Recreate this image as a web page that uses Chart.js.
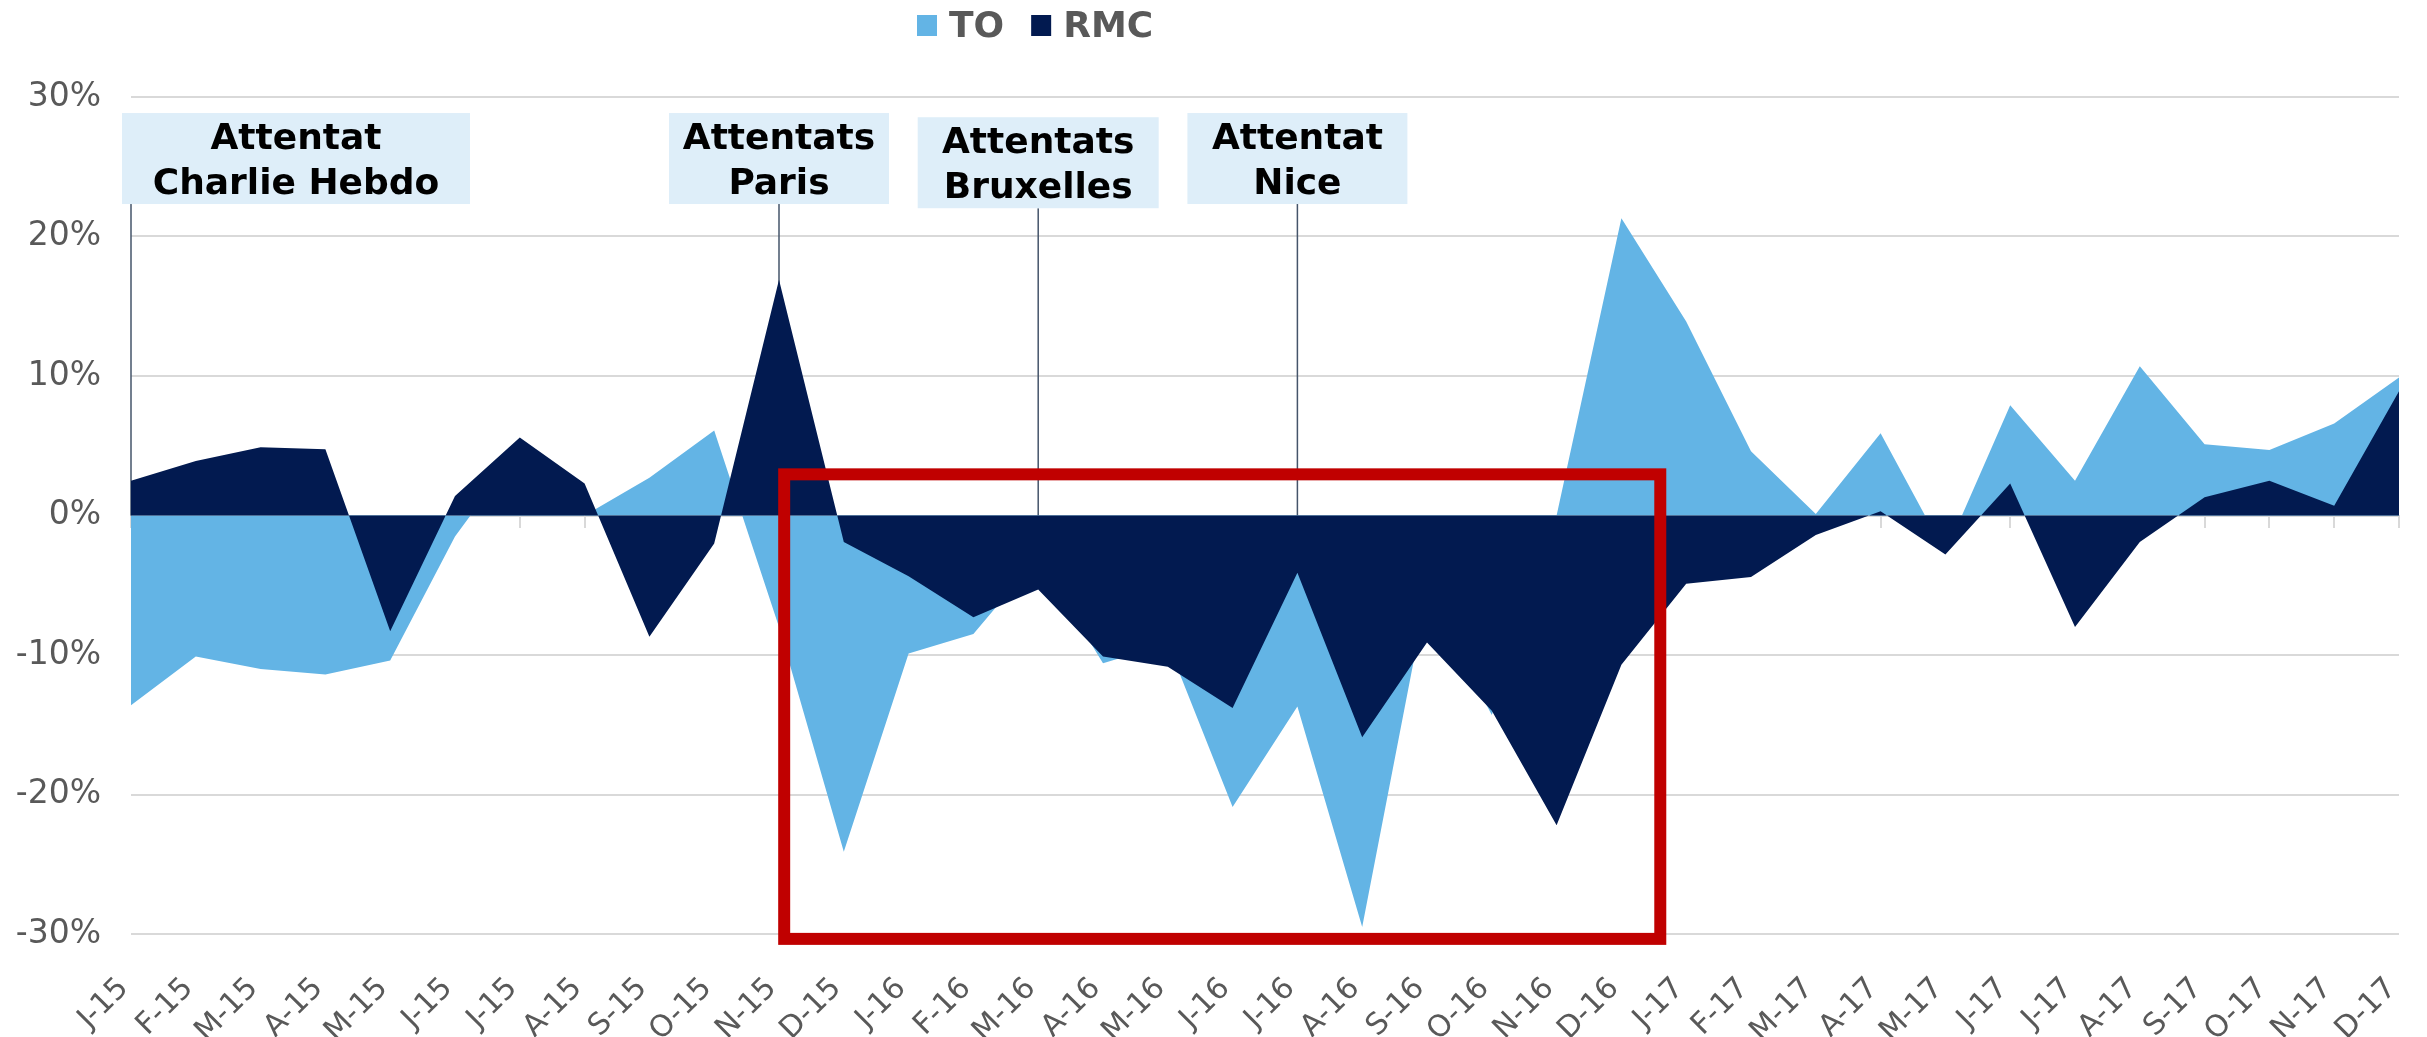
<!DOCTYPE html>
<html>
<head>
<meta charset="utf-8">
<script src="https://cdn.jsdelivr.net/npm/chart.js@4.4.1/dist/chart.umd.min.js"></script>
<style>
html,body{margin:0;padding:0;background:#ffffff;}
#wrap{width:2427px;height:1037px;position:relative;}
</style>
</head>
<body>
<div id="wrap"><canvas id="c" width="2427" height="1037"></canvas></div>
<script>
// ---- data ----
const months = ['J-15','F-15','M-15','A-15','M-15','J-15','J-15','A-15','S-15','O-15','N-15','D-15',
                'J-16','F-16','M-16','A-16','M-16','J-16','J-16','A-16','S-16','O-16','N-16','D-16',
                'J-17','F-17','M-17','A-17','M-17','J-17','J-17','A-17','S-17','O-17','N-17','D-17'];
const seriesTO  = [-13.6,-10.1,-11.0,-11.4,-10.4,-1.5,4.8,0.0,2.7,6.1,-8.0,-24.1,
                   -9.9,-8.5,-3.0,-10.6,-9.2,-20.9,-13.7,-29.5,-5.5,-14.3,0.0,21.3,
                   13.9,4.6,0.1,5.9,-2.7,7.9,2.5,10.7,5.1,4.7,6.6,9.9];
const seriesRMC = [2.5,3.9,4.9,4.75,-8.3,1.4,5.6,2.3,-8.7,-2.0,16.9,-1.9,
                   -4.35,-7.3,-5.3,-10.1,-10.85,-13.8,-4.1,-15.9,-9.1,-14.0,-22.2,-10.7,
                   -4.9,-4.4,-1.4,0.3,-2.8,2.3,-8.0,-1.9,1.3,2.5,0.7,8.9];
const seriesNames = ['TO','RMC'];
const yTickValues = [-30,-20,-10,0,10,20,30];
const eventLabels = [['Attentat','Charlie Hebdo'],['Attentats','Paris'],['Attentats','Bruxelles'],['Attentat','Nice']];
const eventMonths = [0,10,14,18];

// ---- styles ----
const COL_TO = '#63b4e5';
const COL_RMC = '#021a50';
const GREY = '#595959';
const FONT = "'DejaVu Sans', Verdana, sans-serif";

const boxStyle = [
  {w:348, dx:165, top:28.85},
  {w:220, dx:0,   top:28.85},
  {w:241, dx:0,   top:28.55},
  {w:220, dx:0,   top:28.85}
];
const BOX_H = 91;
const focusRect = {x0:10.08, x1:23.6, y0:2.95, y1:-30.35};

const annotPlugin = {
  id:'annot',
  beforeDatasetsDraw(chart){
    const {ctx, scales:{x, y}} = chart;
    ctx.save();
    ctx.strokeStyle = '#44546a';
    ctx.lineWidth = 1.5;
    eventMonths.forEach((m, i) => {
      const px = x.getPixelForValue(m);
      const bottom = y.getPixelForValue(boxStyle[i].top) + BOX_H;
      ctx.beginPath();
      ctx.moveTo(px, bottom);
      ctx.lineTo(px, y.getPixelForValue(0));
      ctx.stroke();
    });
    ctx.restore();
  },
  afterDraw(chart){
    const {ctx, scales:{x, y}} = chart;
    ctx.save();
    // event boxes
    eventMonths.forEach((m, i) => {
      const s = boxStyle[i];
      const cx = x.getPixelForValue(m) + s.dx;
      const top = y.getPixelForValue(s.top);
      ctx.fillStyle = '#deeef9';
      ctx.fillRect(cx - s.w/2, top, s.w, BOX_H);
      ctx.fillStyle = '#000000';
      ctx.font = "bold 36px " + FONT;
      ctx.textAlign = 'center';
      ctx.textBaseline = 'alphabetic';
      ctx.fillText(eventLabels[i][0], cx, top + 36);
      ctx.fillText(eventLabels[i][1], cx, top + 81);
    });
    // focus rectangle
    const rx0 = x.getPixelForValue(focusRect.x0), rx1 = x.getPixelForValue(focusRect.x1);
    const ry0 = y.getPixelForValue(focusRect.y0), ry1 = y.getPixelForValue(focusRect.y1);
    ctx.strokeStyle = '#c00000';
    ctx.lineWidth = 12;
    ctx.strokeRect(rx0, ry0, rx1 - rx0, ry1 - ry0);
    // legend
    ctx.font = "bold 36px " + FONT;
    ctx.textAlign = 'left';
    ctx.textBaseline = 'alphabetic';
    let lx = 917;
    chart.data.datasets.forEach(ds => {
      ctx.fillStyle = ds.backgroundColor;
      ctx.fillRect(lx, 15, 20, 21);
      ctx.fillStyle = GREY;
      ctx.fillText(ds.label, lx + 32, 37);
      lx += 32 + ctx.measureText(ds.label).width + 27;
    });
    ctx.restore();
  }
};

Chart.defaults.font.family = FONT;

new Chart(document.getElementById('c'), {
  type:'line',
  data:{
    labels: months,
    datasets:[
      {label:seriesNames[0], data:seriesTO, backgroundColor:COL_TO, borderColor:COL_TO, borderWidth:0,
       fill:'origin', pointRadius:0, tension:0, order:2, xAxisID:'x', yAxisID:'y'},
      {label:seriesNames[1], data:seriesRMC, backgroundColor:COL_RMC, borderColor:COL_RMC, borderWidth:0,
       fill:'origin', pointRadius:0, tension:0, order:1, xAxisID:'x', yAxisID:'y'}
    ]
  },
  options:{
    responsive:false,
    animation:false,
    devicePixelRatio:1,
    layout:{padding:{left:0, right:28, top:97, bottom:0}},
    plugins:{legend:{display:false}, tooltip:{enabled:false}},
    scales:{
      x:{
        type:'category', position:'bottom', offset:false,
        grid:{display:false, drawTicks:false}, border:{display:false},
        ticks:{color:GREY, font:{size:30}, minRotation:45, maxRotation:45, autoSkip:false, padding:37, labelOffset:-7},
        afterFit(s){ s.height = 103; s.paddingLeft = 0; s.paddingRight = 0; }
      },
      x0:{
        type:'category', position:{y:0}, offset:false, z:1,
        grid:{display:true, drawOnChartArea:false, drawTicks:true, tickLength:11, color:'#d9d9d9', lineWidth:2, offset:false},
        border:{display:true, color:'#d9d9d9', width:2},
        ticks:{display:false, autoSkip:false},
        afterFit(s){ s.paddingLeft = 0; s.paddingRight = 0; }
      },
      y:{
        min:-30, max:30,
        afterBuildTicks(s){ s.ticks = yTickValues.map(v => ({value:v})); },
        ticks:{color:GREY, font:{size:33}, padding:30, callback:v => v + '%'},
        grid:{color:'#d9d9d9', lineWidth:2, drawTicks:false},
        border:{display:false},
        afterFit(s){ s.width = 131; s.paddingTop = 0; s.paddingBottom = 0; }
      }
    }
  },
  plugins:[annotPlugin]
});
</script>
</body>
</html>
